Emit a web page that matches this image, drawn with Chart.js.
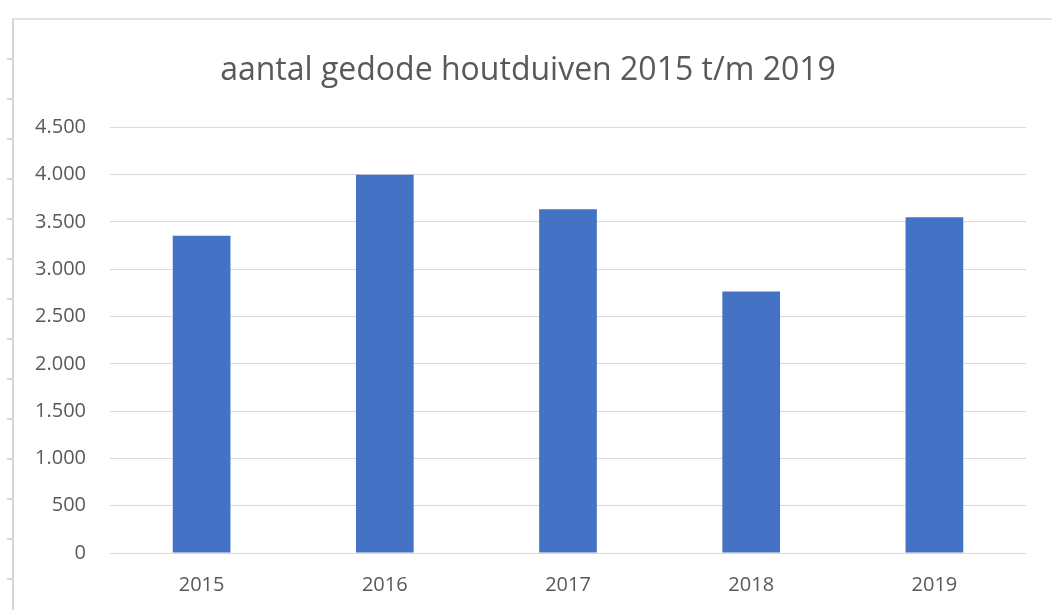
<!DOCTYPE html>
<html lang="nl">
<head>
  <meta charset="UTF-8" />
  <title>aantal gedode houtduiven 2015 t/m 2019</title>
  <script src="https://cdn.jsdelivr.net/npm/chart.js"></script>
  <style>
    html, body {
      margin: 0;
      background: #fff;
    }
    .wrap {
      position: relative;
      width: 1052px;
      height: 610px;
      overflow: hidden;
    }
    /* spreadsheet frame edges */
    .frame {
      position: absolute;
      left: 12px;
      top: 18px;
      right: 0;
      bottom: 0;
      border-left: 2px solid #d6d6d6;
      border-top: 2px solid #e2e2e2;
    }
    .marks {
      position: absolute;
      left: 7px;
      top: 20px;
      width: 5px;
      bottom: 0;
      background: repeating-linear-gradient(to bottom,
        transparent 0, transparent 38px, #d6d6d6 38px, #d6d6d6 40px);
    }
    canvas {
      position: absolute;
      left: 0;
      top: 0;
    }
  </style>
</head>
<body>
  <div class="wrap">
    <div class="frame"></div>
    <div class="marks"></div>
    <canvas id="chart" width="1052" height="610"></canvas>
  </div>

  <script>
    const years = ['2015', '2016', '2017', '2018', '2019'];
    const killed = [3355, 4000, 3635, 2765, 3550];
    const yMax = 4500;
    const yStep = 500;

    // dutch thousands separator
    const fmt = v => String(v).replace(/\B(?=(\d{3})+(?!\d))/g, '.');

    new Chart(document.getElementById('chart'), {
      type: 'bar',
      data: {
        labels: years,
        datasets: [{
          label: 'gedode houtduiven',
          data: killed,
          backgroundColor: '#4472C4',
          barPercentage: 0.315,
          categoryPercentage: 1
        }]
      },
      options: {
        responsive: false,
        animation: false,
        layout: {
          padding: { left: 30, right: 26, top: 0, bottom: 7 }
        },
        plugins: {
          legend: { display: false },
          tooltip: { enabled: false },
          title: {
            display: true,
            text: 'aantal gedode houtduiven 2015 t/m 2019',
            color: '#595959',
            font: { family: 'Open Sans', size: 32, weight: 'normal' },
            padding: { top: 52, bottom: 37 }
          }
        },
        scales: {
          x: {
            afterFit: s => { s.height = 50; },
            grid: { display: false, drawTicks: false },
            border: { display: false },
            ticks: {
              color: '#595959',
              font: { family: 'Open Sans', size: 20 },
              padding: 20
            }
          },
          y: {
            min: 0,
            max: yMax,
            afterFit: s => { s.width = 80; },
            grid: { color: '#d9d9d9', lineWidth: 1, drawTicks: false },
            border: { display: false },
            ticks: {
              stepSize: yStep,
              color: '#595959',
              font: { family: 'Open Sans', size: 20 },
              padding: 24,
              callback: v => fmt(v)
            }
          }
        }
      }
    });
  </script>
</body>
</html>
